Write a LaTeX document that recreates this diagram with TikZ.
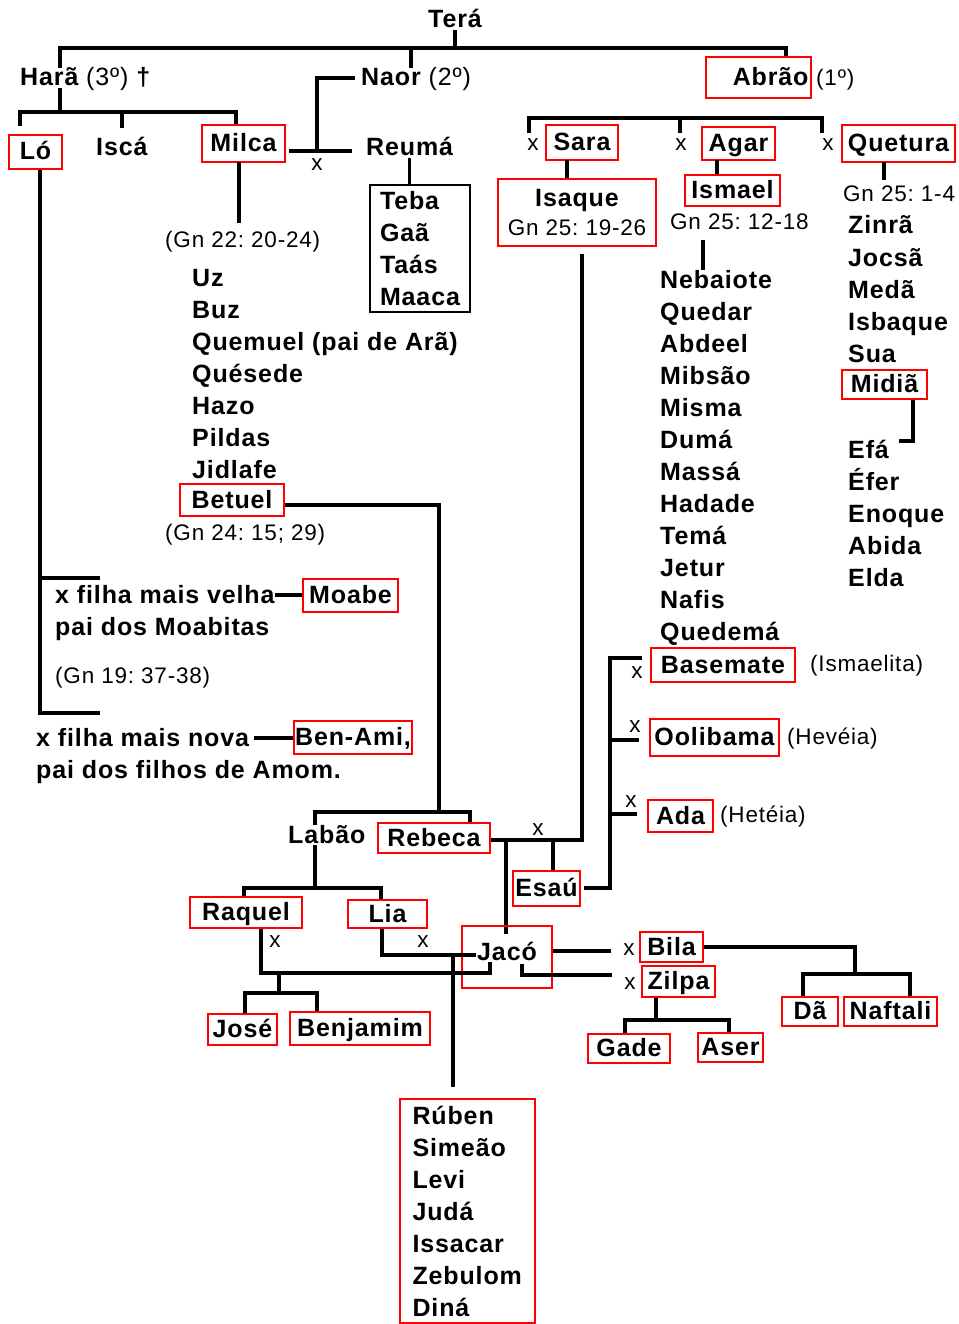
\documentclass[tikz,border=0pt]{standalone}
\usepackage{fontspec}
\setmainfont{Liberation Sans}[LetterSpace=3.5]
\usepackage{xcolor}
\usepackage{tikz}

\newcommand\nmfont{\fontsize{25}{32}\selectfont\bfseries}
\newcommand\rffont{\fontsize{22.5}{28}\selectfont\mdseries}

\begin{document}
\frenchspacing
\begin{tikzpicture}[
  x=1pt, y=-1pt,
  nm/.style={font=\nmfont, inner sep=0pt, anchor=west, text height=18pt, text depth=2pt},
  rf/.style={font=\rffont, inner sep=0pt, anchor=west, text height=17pt, text depth=2pt},
  xm/.style={rf, anchor=center},
  rbox/.style 2 args={draw=red, line width=1.5pt, inner sep=0pt, font=\nmfont,
                      minimum width=#1pt, minimum height=#2pt, text height=18pt, text depth=2pt},
  rlist/.style={draw=red, line width=1.5pt, inner sep=0pt, font=\nmfont},
  link/.style={line width=3.5pt},
]
\useasboundingbox (0,0) rectangle (958,1324);

\node[nm, anchor=center] (tera) at (455,20) {Terá};
\coordinate (barL) at (60,48);
\coordinate (barR) at (786,48);
\coordinate (barN) at (411,48);
\node[nm] (hara) at (20,78) {Harã {\mdseries(3º)} †};
\node[nm] (naor) at (361,78) {Naor {\mdseries(2º)}};
\node[rbox={105}{41}, text width=100pt, align=right] (abrao) at (758.5,77.5) {Abrão};
\node[rf] (abraord) at (816,78) {(1º)};
\draw[link] (tera.south) -- (tera.south |- barL);
\draw[link] (hara.north -| barL) -- (barL) -- (barR) -- (abrao.north -| barR);
\draw[link] (barN) -- (naor.north -| barN);

\node[rbox={53}{34}] (lo) at (35.5,152) {Ló};
\node[nm] (isca) at (96,148) {Iscá};
\node[rbox={83}{37}] (milca) at (243.5,143.5) {Milca};
\coordinate (hb1) at (20,112);
\coordinate (hb2) at (236,112);
\draw[link] (hara.south -| barL) -- (barL |- hb1);
\draw[link, shorten <=8pt] (lo.north -| hb1) -- (hb1) -- (hb2) -- (milca.north -| hb2);
\draw[link, shorten >=10pt] (hb1 -| isca.north) -- (isca.north);

\node[nm] (reuma) at (366,148) {Reumá};
\coordinate (nmj) at (317,151);
\draw[link, shorten <=6pt] (naor.west) -- (naor.west -| nmj) -- (nmj);
\draw[link, shorten <=3pt, shorten >=14pt] (milca.east |- nmj) -- (reuma.west |- nmj);
\node[xm] (xnm) at (317,163) {x};
\node[draw, line width=2pt, inner sep=0pt, minimum width=100pt, minimum height=127pt,
      text width=80pt, align=left, font=\nmfont] (teba) at (420,248.5) {Teba\\Gaã\\Taás\\Maaca};
\draw[link] (reuma.south) -- (reuma.south |- teba.north);

\node[rf] (gn22) at (165,240) {(Gn 22: 20-24)};
\coordinate (ms) at (239,162);
\draw[link, shorten >=7pt] (ms) -- (ms |- gn22.north);
\foreach \nome [count=\k from 0] in {Uz, Buz, Quemuel (pai de Arã), Quésede, Hazo, Pildas, Jidlafe}
  \node[nm] (naorson\k) at (192,278+32*\k) {\nome};
\node[rbox={104}{32}] (betuel) at (232,500) {Betuel};
\node[rf] (gn24) at (165,533) {(Gn 24: 15; 29)};

\coordinate (lo1) at (40,578);
\coordinate (lo1e) at (100,578);
\coordinate (lo2) at (40,713);
\coordinate (lo2e) at (100,713);
\draw[link] (lo.south -| lo1) -- (lo2) -- (lo2e);
\draw[link] (lo1) -- (lo1e);
\node[nm] (velha) at (55,595) {x filha mais velha};
\node[rbox={95}{33}] (moabe) at (350.5,595.5) {Moabe};
\draw[link] (velha.east) -- (velha.east -| moabe.west);
\node[nm] (moabitas) at (55,627) {pai dos Moabitas};
\node[rf] (gn19) at (55,676) {(Gn 19: 37-38)};
\node[nm] (nova) at (36,738) {x filha mais nova};
\node[rbox={118}{33}] (benami) at (353,737.5) {Ben-Ami,};
\draw[link, shorten <=5pt] (nova.east) -- (nova.east -| benami.west);
\node[nm] (amom) at (36,770) {pai dos filhos de Amom.};

\coordinate (ab1) at (529,118);
\coordinate (ab2) at (822,118);
\coordinate (ab3) at (680,118);
\node[xm] (xsara) at (533,143) {x};
\node[xm] (xagar) at (681,143) {x};
\node[xm] (xquet) at (828,143) {x};
\draw[link] (xsara.north -| ab1) -- (ab1) -- (ab2) -- (xquet.north -| ab2);
\draw[link] (ab3) -- (xagar.north -| ab3);
\node[rbox={72}{35}] (sara) at (582,142.5) {Sara};
\node[rbox={73}{33}] (agar) at (738.5,143.5) {Agar};
\node[rbox={113}{37}] (quetura) at (898.5,143.5) {Quetura};
\node[rlist, minimum width=158pt, minimum height=67pt, align=center] (isaque) at (577,212.5)
  {Isaque\\[-3pt]{\rffont Gn 25: 19-26}};
\coordinate (sa) at (567,160);
\draw[link] (sa) -- (sa |- isaque.north);

\node[rbox={95}{31}] (ismael) at (732.5,190.5) {Ismael};
\coordinate (ag) at (717,160);
\draw[link] (ag) -- (ag |- ismael.north);
\node[rf] (gn2512) at (670,222) {Gn 25: 12-18};
\foreach \nome [count=\k from 0] in {Nebaiote, Quedar, Abdeel, Mibsão, Misma, Dumá, Massá, Hadade, Temá, Jetur, Nafis, Quedemá}
  \node[nm] (ism\k) at (660,280+32*\k) {\nome};
\coordinate (is1) at (703,240);
\draw[link] (is1) -- (is1 |- ism0.north);

\node[rf] (gn251) at (843,194) {Gn 25: 1-4};
\coordinate (qs) at (884,162);
\draw[link, shorten >=4pt] (qs) -- (qs |- gn251.north);
\foreach \nome [count=\k from 0] in {Zinrã, Jocsã, Medã, Isbaque, Sua}
  \node[nm] (quet\k) at (848,226+32*\k) {\nome};
\node[rbox={85}{29}] (midia) at (884.5,384.5) {Midiã};
\foreach \nome [count=\k from 0] in {Efá, Éfer, Enoque, Abida, Elda}
  \node[nm] (midson\k) at (848,450+32*\k) {\nome};
\coordinate (md) at (913,441);
\draw[link, shorten >=10pt] (midia.south -| md) -- (md) -- (md -| midson0.east);

\node[nm] (labao) at (288,835) {Labão};
\node[rbox={112}{30}] (rebeca) at (434,838) {Rebeca};
\coordinate (bt) at (439,505);
\coordinate (lr1) at (315,812);
\coordinate (lr2) at (470,812);
\draw[link] (betuel.east |- bt) -- (bt) -- (bt |- lr1);
\draw[link] (labao.north -| lr1) -- (lr1) -- (lr2) -- (rebeca.north -| lr2);

\coordinate (ir) at (582,840);
\draw[link, shorten <=7pt] (isaque.south -| ir) -- (ir) -- (rebeca.east |- ir);
\node[xm] (xir) at (538,828) {x};
\node[rbox={67}{35}] (esau) at (546.5,888.5) {Esaú};
\coordinate (es) at (553,840);
\draw[link] (es) -- (es |- esau.north);
\coordinate (jc) at (506,840);
\coordinate (jct) at (506,934);
\draw[link] (jc) -- (jct);

\node[rbox={144}{34}] (basemate) at (723,665) {Basemate};
\node[rbox={129}{37}] (oolibama) at (714.5,737.5) {Oolibama};
\node[rbox={65}{32}] (ada) at (680.5,816) {Ada};
\node[rf] (ismaelita) at (810,664) {(Ismaelita)};
\node[rf] (heveia) at (787,737) {(Hevéia)};
\node[rf] (heteia) at (720,815) {(Hetéia)};
\coordinate (ew) at (610,888);
\coordinate (ewt) at (610,658);
\coordinate (eo) at (610,740);
\coordinate (ea) at (610,814);
\draw[link, shorten <=3pt, shorten >=8pt] (esau.east |- ew) -- (ew) -- (ewt) -- (ewt -| basemate.west);
\draw[link, shorten >=10pt] (eo) -- (eo -| oolibama.west);
\draw[link, shorten >=10pt] (ea) -- (ea -| ada.west);
\node[xm] (xbas) at (637,671) {x};
\node[xm] (xool) at (635,725) {x};
\node[xm] (xada) at (631,800) {x};

\node[rbox={112}{31}] (raquel) at (246,912.5) {Raquel};
\node[rbox={79}{28}] (lia) at (387.5,914) {Lia};
\coordinate (lbs) at (315,888);
\coordinate (lb1) at (244,888);
\coordinate (lb2) at (381,888);
\draw[link] (labao.south -| lbs) -- (lbs);
\draw[link] (raquel.north -| lb1) -- (lb1) -- (lb2) -- (lia.north -| lb2);

\node[rbox={90}{62}, text depth=12pt] (jaco) at (507,957) {Jacó};
\coordinate (rq1) at (261,973);
\coordinate (rq2) at (490,973);
\coordinate (rq3) at (490,962);
\draw[link] (raquel.south -| rq1) -- (rq1) -- (rq2) -- (rq3);
\coordinate (li1) at (382,955);
\coordinate (li2) at (476,955);
\draw[link] (lia.south -| li1) -- (li1) -- (li2);
\node[xm] (xraq) at (275,940) {x};
\node[xm] (xlia) at (423,940) {x};

\node[rlist, minimum width=135pt, minimum height=224pt, text width=110pt, align=left] (leah)
  at (467.5,1211) {Rúben\\Simeão\\Levi\\Judá\\Issacar\\Zebulom\\Diná};
\coordinate (ls) at (453,955);
\draw[link, shorten >=11pt] (ls) -- (ls |- leah.north);

\node[rbox={69}{31}] (jose) at (242.5,1029.5) {José};
\node[rbox={140}{33}] (benjamim) at (360,1028.5) {Benjamim};
\coordinate (rs) at (279,973);
\coordinate (rs1) at (245,993);
\coordinate (rs2) at (317,993);
\draw[link] (rs) -- (rs |- rs1);
\draw[link] (jose.north -| rs1) -- (rs1) -- (rs2) -- (benjamim.north -| rs2);

\node[rbox={63}{30}] (bila) at (671.5,947) {Bila};
\node[rbox={73}{31}] (zilpa) at (678.5,981.5) {Zilpa};
\node[xm] (xbila) at (629,948) {x};
\node[xm] (xzilpa) at (630,982) {x};
\coordinate (bl) at (611,951);
\draw[link] (jaco.east |- bl) -- (bl);
\coordinate (zp0) at (522,964);
\coordinate (zp1) at (522,975);
\coordinate (zp2) at (612,975);
\draw[link] (zp0) -- (zp1) -- (zp2);

\node[rbox={56}{29}] (da) at (810,1011.5) {Dã};
\node[rbox={93}{29}] (naftali) at (890.5,1011.5) {Naftali};
\coordinate (bd) at (855,947);
\coordinate (bd1) at (803,974);
\coordinate (bd2) at (910,974);
\draw[link] (bila.east |- bd) -- (bd) -- (bd |- bd1);
\draw[link] (da.north -| bd1) -- (bd1) -- (bd2) -- (naftali.north -| bd2);

\node[rbox={82}{29}] (gade) at (629,1048.5) {Gade};
\node[rbox={65}{29}] (aser) at (730.5,1047.5) {Aser};
\coordinate (zs) at (656,1020);
\coordinate (zs1) at (625,1020);
\coordinate (zs2) at (729,1020);
\draw[link] (zilpa.south -| zs) -- (zs);
\draw[link] (gade.north -| zs1) -- (zs1) -- (zs2) -- (aser.north -| zs2);
\end{tikzpicture}
\end{document}
